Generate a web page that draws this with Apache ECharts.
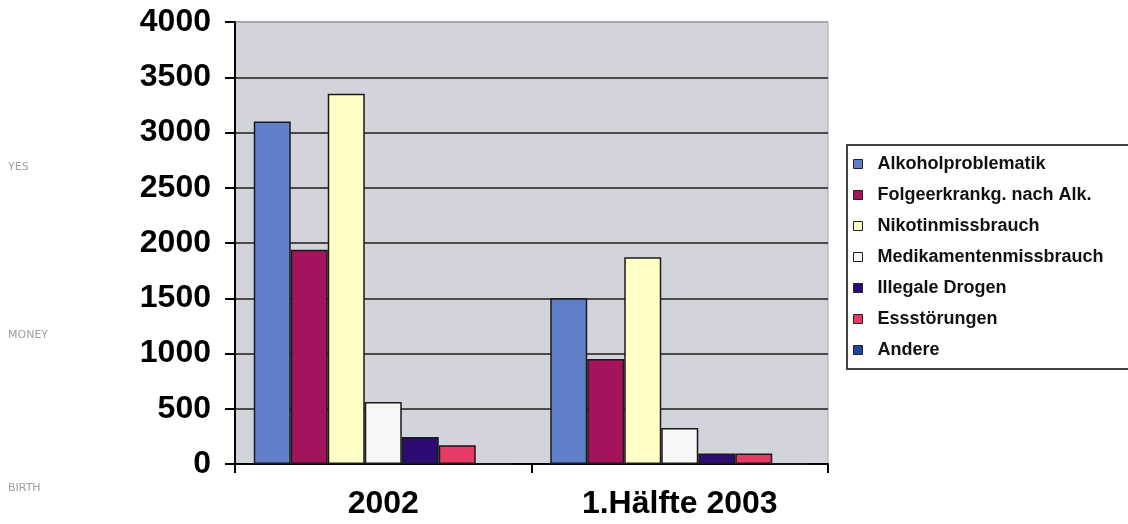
<!DOCTYPE html>
<html>
<head>
<meta charset="utf-8">
<script src="https://cdn.jsdelivr.net/npm/echarts@6/dist/echarts.min.js"></script>
<style>
  html, body { margin: 0; padding: 0; background: #fff; }
  #chart { width: 1128px; height: 524px; }
</style>
</head>
<body>
<div id="chart"></div>
<script>
const categories = ['2002', '1.Hälfte 2003']
const seriesNames = [
  'Alkoholproblematik',
  'Folgeerkrankg. nach Alk.',
  'Nikotinmissbrauch',
  'Medikamentenmissbrauch',
  'Illegale Drogen',
  'Essstörungen',
  'Andere'
]
const alkohol = [3100, 1500]
const folge = [1940, 950]
const nikotin = [3350, 1870]
const medikamente = [560, 325]
const drogen = [245, 95]
const essen = [170, 95]
const andere = [0, 0]
const yTicks = [0, 500, 1000, 1500, 2000, 2500, 3000, 3500, 4000]
const sideWords = ['YES', 'MONEY', 'BIRTH']

const values = [alkohol, folge, nikotin, medikamente, drogen, essen, andere]
const colors = ['#5f7fc9', '#a3145c', '#ffffc6', '#f7f7f7', '#2c0c72', '#e63b66', '#2441a0']

const chart = echarts.init(document.getElementById('chart'))

const font = '"Liberation Sans", Arial, sans-serif'

// the top grid line is only the light plot border
const splitColors = yTicks.map((t, i) => (i === yTicks.length - 1 ? '#a8a8a8' : '#4a4a4a'))

chart.setOption({
  animation: false,
  grid: {
    left: 235,
    right: 300,
    top: 22,
    bottom: 60,
    show: true,
    backgroundColor: '#d3d3dc',
    borderColor: '#a8a8a8',
    borderWidth: 1
  },
  legend: {
    orient: 'vertical',
    left: 847,
    top: 145,
    data: seriesNames,
    itemWidth: 9,
    itemHeight: 9,
    itemGap: 11,
    padding: [9, 40, 9, 6],
    borderColor: '#444',
    borderWidth: 2,
    icon: 'rect',
    itemStyle: { borderColor: '#222', borderWidth: 1 },
    textStyle: {
      fontFamily: font,
      fontWeight: 'bold',
      fontSize: 18,
      lineHeight: 20,
      color: '#111',
      padding: [0, 0, 0, 10]
    }
  },
  xAxis: {
    type: 'category',
    data: categories,
    axisLine: { lineStyle: { color: '#000', width: 2 } },
    axisTick: { show: true, length: 9, lineStyle: { color: '#000', width: 2 } },
    axisLabel: {
      fontFamily: font,
      fontWeight: 'bold',
      fontSize: 32,
      color: '#000',
      margin: 24
    }
  },
  yAxis: {
    type: 'value',
    min: 0,
    max: 4000,
    interval: 500,
    axisLine: { show: true, lineStyle: { color: '#000', width: 2 } },
    axisTick: { show: true, length: 10, lineStyle: { color: '#000', width: 2 } },
    axisLabel: {
      fontFamily: font,
      fontWeight: 'bold',
      fontSize: 32,
      color: '#000',
      margin: 24,
      formatter: v => (yTicks.includes(v) ? String(v) : '')
    },
    splitLine: { lineStyle: { color: splitColors, width: 2 } }
  },
  series: seriesNames.map((name, i) => ({
    name: name,
    type: 'bar',
    data: values[i],
    barWidth: 37,
    barGap: '0%',
    itemStyle: { color: colors[i], borderColor: '#1a1a1a', borderWidth: 1.5 }
  })),
  graphic: sideWords.map((w, i) => ({
    type: 'text',
    left: 8,
    top: [162, 330, 483][i],
    style: {
      text: w,
      fontFamily: '"DejaVu Sans", sans-serif',
      fontSize: 11,
      fill: '#a0a0a0'
    }
  }))
})
</script>
</body>
</html>
